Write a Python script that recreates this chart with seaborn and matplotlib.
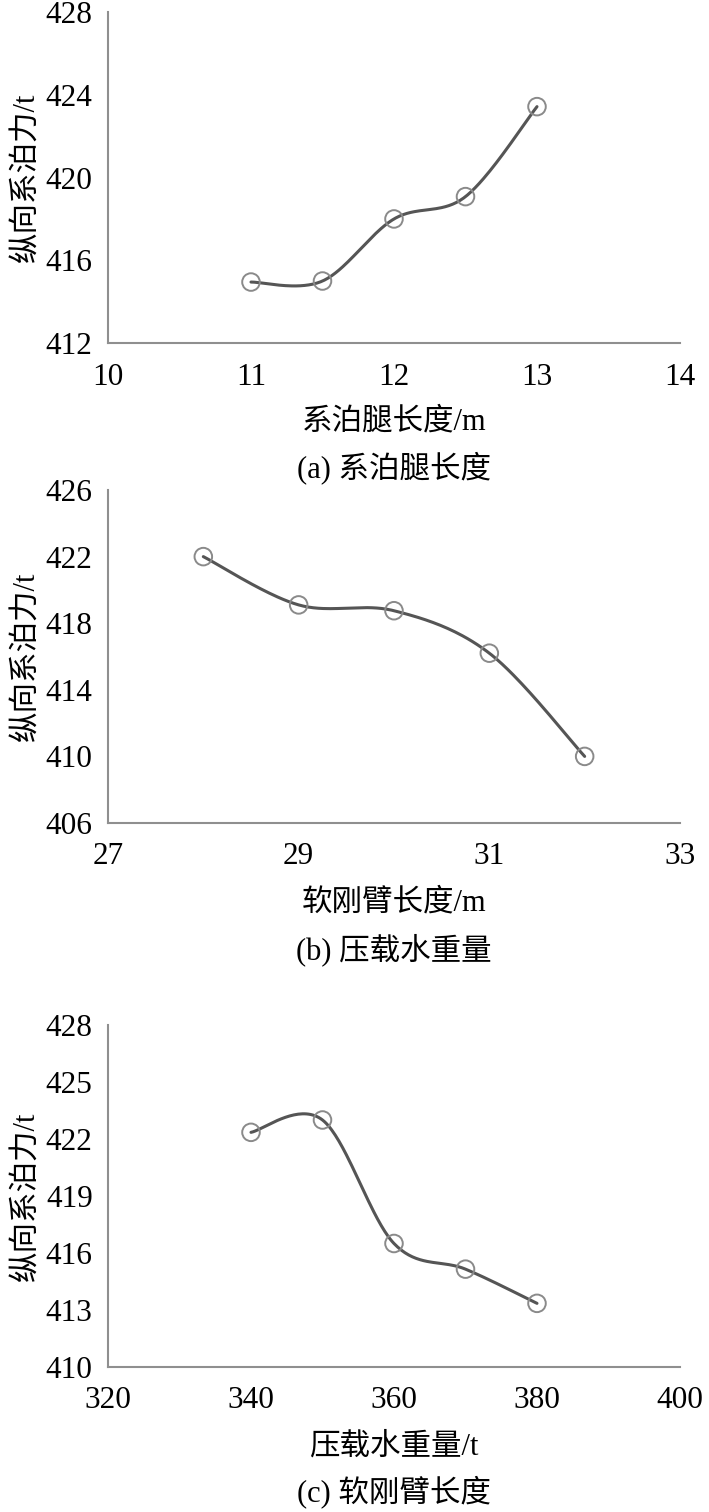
import numpy as np
import pandas as pd
import matplotlib
matplotlib.use('Agg')
import matplotlib.pyplot as plt
import seaborn as sns

# data
leg_len = [11, 11.5, 12, 12.5, 13]
force_a = [414.95, 415.0, 418.0, 419.08, 423.43]

arm_len = [28, 29, 30, 31, 32]
force_b = [422.0, 419.1, 418.75, 416.2, 410.0]

ballast = [340, 350, 360, 370, 380]
force_c = [422.35, 423.0, 416.5, 415.15, 413.35]

ylabel = '纵向系泊力/t'
xlabels = ['系泊腿长度/m', '软刚臂长度/m', '压载水重量/t']
captions = ['(a) 系泊腿长度', '(b) 压载水重量', '(c) 软刚臂长度']

sns.set_theme(style='white')
plt.rcParams['font.family'] = ['Liberation Serif', 'Noto Sans CJK SC']
plt.rcParams['axes.unicode_minus'] = False

axis_col = '#8f8f8f'
line_col = '#555555'


def smooth(x, y, n=40):
    # excel style smoothed line (catmull-rom as cubic bezier)
    x = np.asarray(x, float)
    y = np.asarray(y, float)
    px = np.concatenate([[x[0]], x, [x[-1]]])
    py = np.concatenate([[y[0]], y, [y[-1]]])
    xs, ys = [], []
    t = np.linspace(0, 1, n)
    for i in range(1, len(px) - 2):
        p0 = np.array([px[i], py[i]])
        p3 = np.array([px[i + 1], py[i + 1]])
        c1 = p0 + (np.array([px[i + 1], py[i + 1]]) - np.array([px[i - 1], py[i - 1]])) / 6
        c2 = p3 - (np.array([px[i + 2], py[i + 2]]) - np.array([px[i], py[i]])) / 6
        b = ((1 - t) ** 3)[:, None] * p0 + (3 * (1 - t) ** 2 * t)[:, None] * c1 \
            + (3 * (1 - t) * t ** 2)[:, None] * c2 + (t ** 3)[:, None] * p3
        xs.extend(b[:, 0])
        ys.extend(b[:, 1])
    return pd.DataFrame({'x': xs, 'y': ys})


fig = plt.figure(figsize=(7.09, 15.12), dpi=100)

panels = [
    (leg_len, force_a, [0.1523, 0.7731, 0.8068, 0.2189], (10, 14), np.arange(10, 15, 1), (412, 428), np.arange(412, 429, 4), -0.239, -0.378),
    (arm_len, force_b, [0.1523, 0.4557, 0.8068, 0.2202], (27, 33), np.arange(27, 34, 2), (406, 426), np.arange(406, 427, 4), -0.240, -0.381),
    (ballast, force_c, [0.1523, 0.0959, 0.8068, 0.2262], (320, 400), np.arange(320, 401, 20), (410, 428), np.arange(410, 429, 3), -0.234, -0.365),
]

for k, (xv, yv, pos, xl, xt, yl, yt, xlab_y, cap_y) in enumerate(panels):
    ax = fig.add_axes(pos)
    curve = smooth(xv, yv)
    sns.lineplot(data=curve, x='x', y='y', sort=False, estimator=None,
                 color=line_col, linewidth=2.2, ax=ax)
    sns.scatterplot(x=xv, y=yv, ax=ax, marker='o', s=160,
                    facecolor='none', edgecolor='#8a8a8a', linewidth=1.4, zorder=3)
    ax.set_xlim(*xl)
    ax.set_ylim(*yl)
    ax.set_xticks(xt)
    ax.set_yticks(yt)
    ax.set_xticklabels([str(v) for v in xt])
    ax.set_yticklabels([str(v) for v in yt])
    for s in ['top', 'right']:
        ax.spines[s].set_visible(False)
    for s in ['left', 'bottom']:
        ax.spines[s].set_color(axis_col)
        ax.spines[s].set_linewidth(1.5)
    ax.tick_params(axis='both', direction='in', length=7, width=1.4, color=axis_col,
                   labelsize=22.5, labelcolor='black')
    ax.tick_params(axis='x', pad=14)
    ax.tick_params(axis='y', pad=11)
    ax.set_xlabel(xlabels[k], fontsize=22, color='black', va='center')
    ax.xaxis.set_label_coords(0.5, xlab_y)
    ax.set_ylabel(ylabel, fontsize=22, color='black', va='center')
    ax.yaxis.set_label_coords(-0.142, 0.5)
    ax.text(0.5, cap_y, captions[k], transform=ax.transAxes, ha='center', va='center',
            fontsize=22, color='black')
    ax.grid(False)

fig.savefig('out.png', dpi=100, facecolor='white')
